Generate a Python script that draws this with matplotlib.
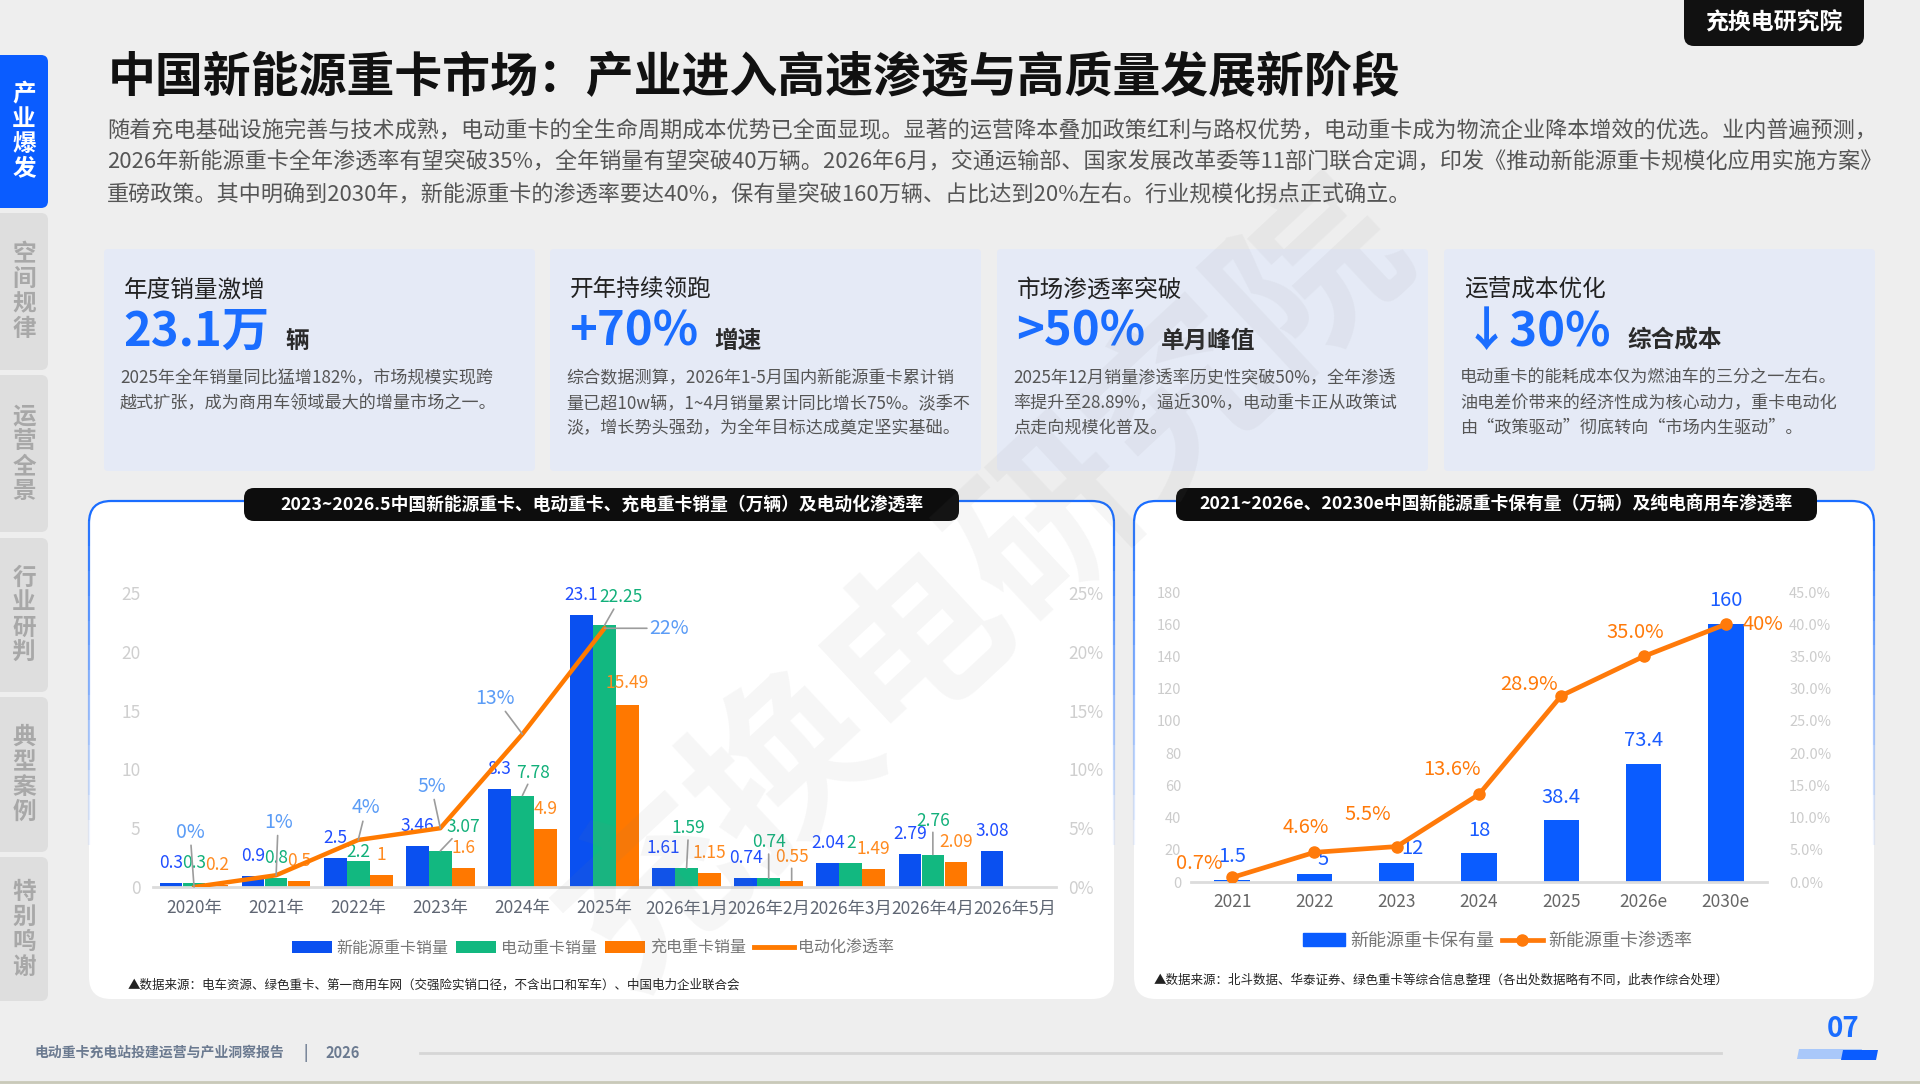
import matplotlib
matplotlib.use('Agg')
import matplotlib.pyplot as plt
from matplotlib.patches import FancyBboxPatch, Rectangle, Polygon, Patch
from matplotlib.lines import Line2D
import numpy as np

plt.rcParams['font.family'] = ['Noto Sans CJK SC', 'DejaVu Sans']

W, H = 1920, 1084

# ---------------- data ----------------
sales_cats = ['2020年', '2021年', '2022年', '2023年', '2024年', '2025年',
              '2026年1月', '2026年2月', '2026年3月', '2026年4月', '2026年5月']
nev_sales = [0.3, 0.9, 2.5, 3.46, 8.3, 23.1, 1.61, 0.74, 2.04, 2.79, 3.08]
ev_sales = [0.3, 0.8, 2.2, 3.07, 7.78, 22.25, 1.59, 0.74, 2, 2.76, None]
charge_sales = [0.2, 0.5, 1, 1.6, 4.9, 15.49, 1.15, 0.55, 1.49, 2.09, None]
ev_share = [0, 1, 4, 5, 13, 22]          # %, 2020-2025

stock_cats = ['2021', '2022', '2023', '2024', '2025', '2026e', '2030e']
nev_stock = [1.5, 5, 12, 18, 38.4, 73.4, 160]
nev_share = [0.7, 4.6, 5.5, 13.6, 28.9, 35.0, 40]
nev_share_text = ['0.7%', '4.6%', '5.5%', '13.6%', '28.9%', '35.0%', '40%']

tabs = ['产业爆发', '空间规律', '运营全景', '行业研判', '典型案例', '特别鸣谢']

title = '中国新能源重卡市场：产业进入高速渗透与高质量发展新阶段'
intro = [
    '随着充电基础设施完善与技术成熟，电动重卡的全生命周期成本优势已全面显现。显著的运营降本叠加政策红利与路权优势，电动重卡成为物流企业降本增效的优选。业内普遍预测，',
    '2026年新能源重卡全年渗透率有望突破35%，全年销量有望突破40万辆。2026年6月，交通运输部、国家发展改革委等11部门联合定调，印发《推动新能源重卡规模化应用实施方案》',
    '重磅政策。其中明确到2030年，新能源重卡的渗透率要达40%，保有量突破160万辆、占比达到20%左右。行业规模化拐点正式确立。',
]
card_heads = ['年度销量激增', '开年持续领跑', '市场渗透率突破', '运营成本优化']
card_big = ['23.1万', '+70%', '>50%', '↓30%']
card_unit = ['辆', '增速', '单月峰值', '综合成本']
card_body = [
    ['2025年全年销量同比猛增182%，市场规模实现跨', '越式扩张，成为商用车领域最大的增量市场之一。'],
    ['综合数据测算，2026年1-5月国内新能源重卡累计销', '量已超10w辆，1~4月销量累计同比增长75%。淡季不',
     '淡，增长势头强劲，为全年目标达成奠定坚实基础。'],
    ['2025年12月销量渗透率历史性突破50%，全年渗透', '率提升至28.89%，逼近30%，电动重卡正从政策试', '点走向规模化普及。'],
    ['电动重卡的能耗成本仅为燃油车的三分之一左右。', '油电差价带来的经济性成为核心动力，重卡电动化',
     '由“政策驱动”彻底转向“市场内生驱动”。'],
]

BLUE = '#0a50f0'
GREEN = '#12b880'
ORANGE = '#ff7800'
ACCENT = '#1a6dff'

fig = plt.figure(figsize=(W / 100, H / 100), dpi=100)
fig.patch.set_facecolor('#eeeeee')
bg = fig.add_axes([0, 0, 1, 1], zorder=0)
bg.set_xlim(0, W)
bg.set_ylim(H, 0)
bg.axis('off')
renderer = fig.canvas.get_renderer()


def ax_rect(x0, x1, y_top, y_bot):
    return [x0 / W, 1 - y_bot / H, (x1 - x0) / W, (y_bot - y_top) / H]


# ---------------- sidebar ----------------
tab_spans = [(55, 208), (213, 370), (375, 532), (538, 692), (697, 852), (857, 1001)]
for i, (name, (t0, t1)) in enumerate(zip(tabs, tab_spans)):
    active = i == 0
    bg.add_patch(FancyBboxPatch((-10, t0), 58, t1 - t0, boxstyle='round,pad=0,rounding_size=7',
                                fc='#0a5cff' if active else '#dedede', ec='none', zorder=1))
    yc = (t0 + t1) / 2
    for j, ch in enumerate(name):
        bg.text(24, yc + (j - 1.5) * 25, ch, ha='center', va='center', fontsize=17,
                fontweight='bold', color='white' if active else '#a8a8a8', zorder=2)

# ---------------- header ----------------
bg.text(108, 77, title, ha='left', va='center', fontsize=34.5, fontweight='heavy', color='#111111')
bg.add_patch(FancyBboxPatch((1684, -20), 180, 66, boxstyle='round,pad=0,rounding_size=10',
                            fc='#111111', ec='none'))
bg.text(1774, 23, '充换电研究院', ha='center', va='center', fontsize=16.5, fontweight='heavy', color='white')
for k, line in enumerate(intro):
    bg.text(107, 131 + 32 * k, line, ha='left', va='center', fontsize=15.9, color='#555555')

# ---------------- cards ----------------
card_x = [104, 550, 997, 1444]
for i in range(4):
    x0 = card_x[i]
    bg.add_patch(FancyBboxPatch((x0, 249), 431, 222, boxstyle='round,pad=0,rounding_size=4',
                                fc='#e5eaf6', ec='none', zorder=1))
    bg.text(x0 + 20, 290, card_heads[i], ha='left', va='center', fontsize=17, color='#222222', zorder=2)
    big = bg.text(x0 + 19, 332, card_big[i], ha='left', va='center', fontsize=34,
                  fontweight='bold', color=ACCENT, zorder=2)
    bb = big.get_window_extent(renderer=renderer)
    bg.text(bb.x1 + 16, 341, card_unit[i], ha='left', va='center', fontsize=17,
            fontweight='bold', color='#2a2a2a', zorder=2)
    for k, line in enumerate(card_body[i]):
        bg.text(x0 + 16, 378 + 25 * k, line, ha='left', va='center', fontsize=12.3,
                color='#555555', zorder=2)


# ---------------- chart panels ----------------
def panel(x0, y0, x1, y1, title_x0, title_x1, title_text):
    bg.add_patch(FancyBboxPatch((x0, y0), x1 - x0, y1 - y0, boxstyle='round,pad=0,rounding_size=22',
                                fc='white', ec='none', zorder=1))
    n = 14
    span = 0.7 * (y1 - y0)
    for k in range(n):
        edge = FancyBboxPatch((x0, y0), x1 - x0, y1 - y0, boxstyle='round,pad=0,rounding_size=22',
                              fc='none', ec=ACCENT, lw=1.6, alpha=max(0.0, 1 - k / n), zorder=2)
        bg.add_patch(edge)
        clip = Rectangle((x0 - 5, y0 - 5 + k * span / n), x1 - x0 + 10, span / n, transform=bg.transData)
        edge.set_clip_path(clip)
    bg.add_patch(FancyBboxPatch((title_x0, 488), title_x1 - title_x0, 33,
                                boxstyle='round,pad=0,rounding_size=10', fc='#0d0d0d', ec='none', zorder=3))
    bg.text((title_x0 + title_x1) / 2, 504.5, title_text, ha='center', va='center', fontsize=12.8,
            fontweight='bold', color='white', zorder=4)


panel(89, 501, 1114, 999, 244, 959,
      '2023~2026.5中国新能源重卡、电动重卡、充电重卡销量（万辆）及电动化渗透率')
panel(1134, 501, 1874, 999, 1176, 1817,
      '2021~2026e、20230e中国新能源重卡保有量（万辆）及纯电商用车渗透率')


def label(ax, x, y, text, color, size, dx, dy, leader=False):
    kw = {}
    if leader:
        kw['arrowprops'] = dict(arrowstyle='-', color='#9c9c9c', lw=1.2, shrinkA=0, shrinkB=0)
    ax.annotate(text, xy=(x, y), xytext=(dx * 0.72, dy * 0.72), textcoords='offset points',
                ha='center', va='center', color=color, fontsize=size, annotation_clip=False,
                zorder=6, **kw)


# ---------------- left chart ----------------
ax1 = fig.add_axes(ax_rect(153, 1056, 593, 887), zorder=2)
ax1.set_facecolor('none')
x = np.arange(len(sales_cats))
bw, off = 0.275, 0.28
series = [(nev_sales, BLUE, -off, '新能源重卡销量', '#1f4dff'),
          (ev_sales, GREEN, 0, '电动重卡销量', '#12b07a'),
          (charge_sales, ORANGE, off, '充电重卡销量', '#ff8a1f')]
nudges = [{}, {2: (0, 9), 3: (23, 24), 4: (11, 23), 5: (16, 28), 6: (2, 40), 7: (0, 36), 9: (0, 34)},
          {5: (0, 22), 7: (0, 24)}]
leaders = [set(), {3, 4, 5, 6, 7, 9}, {7}]
bar_handles = []
for s, (vals, col, dxo, name, tcol) in enumerate(series):
    idx = [i for i, v in enumerate(vals) if v is not None]
    b = ax1.bar(x[idx] + dxo, [vals[i] for i in idx], width=bw, color=col, label=name, zorder=2)
    bar_handles.append(b)
    for i in idx:
        dx, dy = nudges[s].get(i, (0, 20))
        label(ax1, x[i] + dxo, vals[i], f'{vals[i]:g}', tcol, 12.5, dx, dy, i in leaders[s])

ax1.set_xlim(-0.5, len(sales_cats) - 0.5)
ax1.set_ylim(0, 25)
ax1.set_yticks(range(0, 26, 5))
ax1.set_xticks(x)
ax1.set_xticklabels(sales_cats)
ax1.tick_params(axis='x', length=0, pad=9, labelsize=12.5, labelcolor='#5f6673')
ax1.tick_params(axis='y', length=0, pad=9, labelsize=12.5, labelcolor='#cfcfcf')
for sp in ['top', 'left', 'right']:
    ax1.spines[sp].set_visible(False)
ax1.spines['bottom'].set_color('#dcdcdc')
ax1.spines['bottom'].set_linewidth(2)

ax2 = ax1.twinx()
ax2.set_ylim(0, 25)
ax2.set_yticks(range(0, 26, 5))
ax2.set_yticklabels([f'{v}%' for v in range(0, 26, 5)])
ax2.tick_params(axis='y', length=0, pad=9, labelsize=12.5, labelcolor='#cfcfcf')
for sp in ax2.spines.values():
    sp.set_visible(False)
ax2.plot(x[:len(ev_share)], ev_share, color='#ff7a00', lw=3.2, solid_capstyle='round', zorder=4)
share_nudge = [(-4, 55), (2, 53), (8, 32), (-9, 42), (-27, 36), (65, 0)]
for i, v in enumerate(ev_share):
    dx, dy = share_nudge[i]
    label(ax2, x[i], v, f'{v}%', '#5b9cf6', 14, dx, dy, True)

ax1.legend(handles=bar_handles + [Line2D([], [], color='#ff7a00', lw=3.5)],
           labels=[s[3] for s in series] + ['电动化渗透率'],
           loc='center', bbox_to_anchor=(593 / W, 1 - 948 / H), bbox_transform=fig.transFigure,
           ncol=4, frameon=False, fontsize=11.5, handlelength=2.5, handleheight=0.7,
           handletextpad=0.3, columnspacing=0.5, labelcolor='#777777')
bg.text(128, 985, '▲数据来源：电车资源、绿色重卡、第一商用车网（交强险实销口径，不含出口和军车）、中国电力企业联合会',
        ha='left', va='center', fontsize=9, color='#222222', zorder=3)

# ---------------- right chart ----------------
ax3 = fig.add_axes(ax_rect(1191, 1767, 592, 882), zorder=2)
ax3.set_facecolor('none')
xs = np.arange(len(stock_cats))
ax3.bar(xs, nev_stock, width=0.43, color='#0a5cff', zorder=2)
ax3.set_xlim(-0.5, len(stock_cats) - 0.5)
ax3.set_ylim(0, 180)
ax3.set_yticks(range(0, 181, 20))
ax3.set_xticks(xs)
ax3.set_xticklabels(stock_cats)
ax3.tick_params(axis='x', length=0, pad=8, labelsize=12.5, labelcolor='#666666')
ax3.tick_params(axis='y', length=0, pad=7, labelsize=10.5, labelcolor='#cccccc')
for sp in ['top', 'left', 'right']:
    ax3.spines[sp].set_visible(False)
ax3.spines['bottom'].set_color('#dcdcdc')
ax3.spines['bottom'].set_linewidth(2)
stock_nudge = [(0, 23), (9, 14), (16, 14), (0, 23), (0, 23), (0, 23), (0, 24)]
for i, v in enumerate(nev_stock):
    dx, dy = stock_nudge[i]
    label(ax3, xs[i], v, f'{v:g}', '#1a5cff', 14.5, dx, dy)

ax4 = ax3.twinx()
ax4.set_ylim(0, 45)
ax4.set_yticks(range(0, 46, 5))
ax4.set_yticklabels([f'{v:.1f}%' for v in range(0, 46, 5)])
ax4.tick_params(axis='y', length=0, pad=16, labelsize=10.5, labelcolor='#cccccc')
for sp in ax4.spines.values():
    sp.set_visible(False)
ax4.plot(xs, nev_share, color='#ff7a0a', lw=3.4, marker='o', markersize=8, zorder=4)
share2_nudge = [(-33, 14), (-9, 25), (-29, 32), (-27, 25), (-32, 11), (-8, 24), (37, 0)]
for i, v in enumerate(nev_share):
    dx, dy = share2_nudge[i]
    label(ax4, xs[i], v, nev_share_text[i], '#ff7a0a', 14.5, dx, dy)

ax3.legend(handles=[Patch(color='#0a5cff'), Line2D([], [], color='#ff7a0a', lw=3.4, marker='o', markersize=8)],
           labels=['新能源重卡保有量', '新能源重卡渗透率'],
           loc='center', bbox_to_anchor=(1498 / W, 1 - 941 / H), bbox_transform=fig.transFigure,
           ncol=2, frameon=False, fontsize=13, handlelength=2.3, handleheight=0.7,
           handletextpad=0.3, columnspacing=0.4, labelcolor='#777777')
bg.text(1154, 980, '▲数据来源：北斗数据、华泰证券、绿色重卡等综合信息整理（各出处数据略有不同，此表作综合处理）',
        ha='left', va='center', fontsize=9, color='#222222', zorder=3)

# ---------------- footer ----------------
foot = bg.text(34, 1053, '电动重卡充电站投建运营与产业洞察报告', ha='left', va='center', fontsize=10,
               fontweight='bold', color='#6b7a90')
fx = foot.get_window_extent(renderer=renderer).x1
bg.text(fx + 22, 1053, '|', ha='center', va='center', fontsize=10.5, fontweight='bold', color='#6b7a90')
bg.text(fx + 42, 1053, '2026', ha='left', va='center', fontsize=10.5, fontweight='bold', color='#6b7a90')
bg.plot([420, 1721], [1053, 1053], color='#d6d6d6', lw=2)
bg.text(1843, 1029, '07', ha='center', va='center', fontsize=20, fontweight='bold', color=ACCENT)
bg.add_patch(Polygon([(1799, 1049), (1862, 1049), (1860, 1059), (1797, 1059)], closed=True,
                     fc='#a9c8fa', ec='none'))
bg.add_patch(Polygon([(1843, 1050), (1878, 1050), (1876, 1060), (1841, 1060)], closed=True,
                     fc='#0a5cff', ec='none'))
bg.plot([0, W], [1082, 1082], color='#c9c9b9', lw=2)

# ---------------- watermark ----------------
fig.text(985 / W, 1 - 585 / H, '充换电研究院', ha='center', va='center', fontsize=130,
         fontweight='heavy', rotation=43, color='#808080', alpha=0.07, zorder=10)

fig.savefig('out.png', dpi=100, facecolor=fig.get_facecolor())
